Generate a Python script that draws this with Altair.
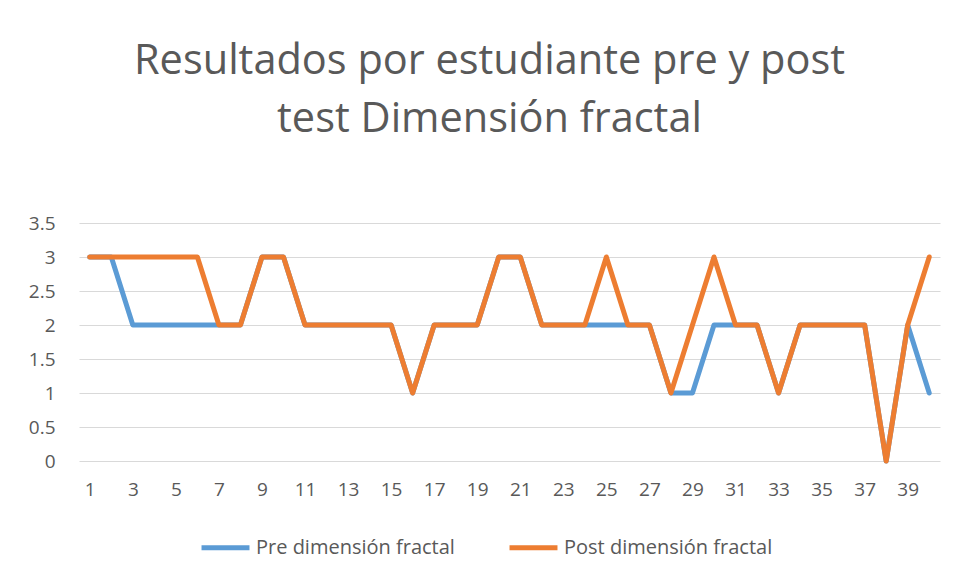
import altair as alt
import pandas as pd

students = list(range(1, 41))
pre = [3, 3, 2, 2, 2, 2, 2, 2, 3, 3, 2, 2, 2, 2, 2, 1, 2, 2, 2, 3,
       3, 2, 2, 2, 2, 2, 2, 1, 1, 2, 2, 2, 1, 2, 2, 2, 2, 0, 2, 1]
post = [3, 3, 3, 3, 3, 3, 2, 2, 3, 3, 2, 2, 2, 2, 2, 1, 2, 2, 2, 3,
        3, 2, 2, 2, 3, 2, 2, 1, 2, 3, 2, 2, 1, 2, 2, 2, 2, 0, 2, 3]
series_names = ["Pre dimensión fractal", "Post dimensión fractal"]
x_ticks = list(range(1, 41, 2))
y_ticks = [0, 0.5, 1, 1.5, 2, 2.5, 3, 3.5]
title_lines = ["Resultados por estudiante pre y post", "test Dimensión fractal"]

rows = []
for name, vals in zip(series_names, [pre, post]):
    for s, v in zip(students, vals):
        rows.append({"Estudiante": s, "Valor": v, "Serie": name})
df = pd.DataFrame(rows)

FONT = "Open Sans"
GREY = "#595959"

chart = alt.Chart(df).mark_line(strokeWidth=5, strokeCap="round", strokeJoin="round").encode(
    x=alt.X("Estudiante:Q", scale=alt.Scale(domain=[0.5, 40.5], nice=False, zero=False),
            axis=alt.Axis(values=x_ticks, title=None, grid=False, ticks=False, domain=False,
                          labelPadding=19, labelFontSize=19, labelColor=GREY, labelFont=FONT)),
    y=alt.Y("Valor:Q", scale=alt.Scale(domain=[0, 3.5], nice=False),
            axis=alt.Axis(values=y_ticks, format=".1~f", title=None, ticks=False, domain=False,
                          gridColor="#d9d9d9", gridWidth=1, labelPadding=24, labelFontSize=19,
                          labelColor=GREY, labelFont=FONT)),
    color=alt.Color("Serie:N", scale=alt.Scale(domain=series_names, range=["#5B9BD5", "#ED7D31"]),
                    legend=alt.Legend(title=None, orient="none", direction="horizontal",
                                      legendX=120, legendY=298, symbolType="stroke",
                                      symbolSize=2300, symbolStrokeWidth=5, labelFontSize=20,
                                      labelColor=GREY, labelFont=FONT, labelOffset=4,
                                      labelLimit=0, columnPadding=44)),
).properties(
    width=861, height=238,
    title=alt.TitleParams(text=title_lines, fontSize=41.5, fontWeight="normal", color=GREY,
                          font=FONT, anchor="middle", dx=-20, offset=74, lineHeight=58),
    autosize=alt.AutoSizeParams(type="none"),
    padding={"left": 71, "top": 215, "right": 10, "bottom": 110},
).configure_view(stroke=None)

chart.save("out.html", embed_options={"renderer": "svg", "actions": False})
